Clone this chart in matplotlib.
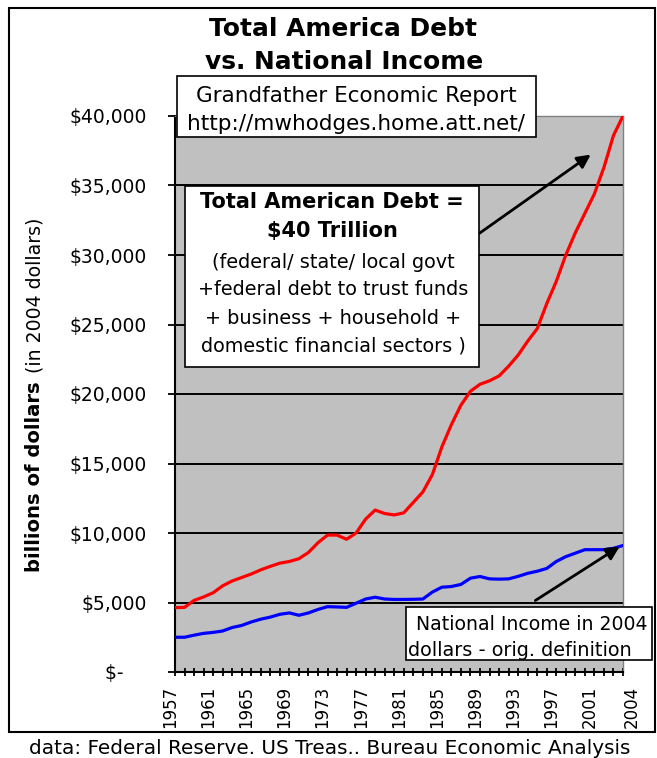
import matplotlib
matplotlib.use("Agg")
import matplotlib.pyplot as plt
from matplotlib.patches import Rectangle
import numpy as np

plt.rcParams['font.family'] = ['DejaVu Sans']

# Data (billions of 2004 dollars)
years = list(range(1957, 2005))
total_debt = [4630, 4650, 5150, 5400, 5700, 6200, 6550, 6800, 7050, 7350,
              7600, 7830, 7950, 8150, 8600, 9300, 9850, 9850, 9550, 10000,
              11000, 11650, 11400, 11300, 11450, 12200, 12950, 14200, 16200, 17800,
              19200, 20200, 20700, 20950, 21300, 22000, 22800, 23800, 24700, 26500,
              28100, 30000, 31600, 33000, 34400, 36300, 38600, 40000]
national_income = [2500, 2500, 2650, 2780, 2850, 2950, 3200, 3350, 3600, 3800,
                   3950, 4150, 4250, 4080, 4250, 4500, 4700, 4680, 4650, 4950,
                   5250, 5380, 5250, 5220, 5220, 5230, 5250, 5750, 6100, 6150,
                   6300, 6750, 6870, 6700, 6680, 6700, 6880, 7100, 7250, 7450,
                   7950, 8300, 8550, 8800, 8800, 8800, 8900, 9100]
y_ticks = [0, 5000, 10000, 15000, 20000, 25000, 30000, 35000, 40000]
y_labels = ['$-    ', '$5,000', '$10,000', '$15,000', '$20,000', '$25,000',
            '$30,000', '$35,000', '$40,000']
x_label_years = [1957, 1961, 1965, 1969, 1973, 1977, 1981, 1985, 1989, 1993,
                 1997, 2001, 2004]

W, H = 657, 758
fig = plt.figure(figsize=(W / 100, H / 100), dpi=100)


def fx(px):
    return px / W


def fy(py):
    return 1 - py / H


def box(x0, y0, x1, y1):
    # white box with black border, given in pixel corners
    fig.patches.append(Rectangle((fx(x0), fy(y1)), fx(x1) - fx(x0), fy(y0) - fy(y1),
                                 transform=fig.transFigure, facecolor='white',
                                 edgecolor='black', linewidth=1.2, zorder=5))


# outer frame
fig.patches.append(Rectangle((fx(9), fy(732)), fx(655) - fx(9), fy(8) - fy(732),
                             transform=fig.transFigure, fill=False,
                             edgecolor='black', linewidth=1.5))

ax = fig.add_axes([fx(175), fy(672), fx(623) - fx(175), fy(116) - fy(672)])
ax.set_facecolor('#c0c0c0')

ax.plot(years, total_debt, color='#ff0000', linewidth=2.3, zorder=3)
ax.plot(years, national_income, color='#0000ff', linewidth=2.3, zorder=3)

ax.set_xlim(1957, 2004)
ax.set_ylim(0, 40000)
ax.set_yticks(y_ticks)
ax.set_yticklabels(y_labels, fontsize=13.5)
ax.set_xticks(years)
ax.set_xticklabels([])
ax.tick_params(axis='x', direction='inout', length=6, width=1.3)
ax.tick_params(axis='y', direction='out', length=5, width=1.3, pad=15)
ax.grid(axis='y', color='black', linewidth=1.4)
ax.set_axisbelow(True)
for s in ['left', 'bottom']:
    ax.spines[s].set_linewidth(1.5)
for s in ['top', 'right']:
    ax.spines[s].set_color('#808080')
    ax.spines[s].set_linewidth(1.0)

# year labels (Excel puts every 4th category, last one shifted right)
px_per_year = (623 - 175) / 47
for yr in x_label_years:
    xpos = yr - 5 / px_per_year if yr != 2004 else yr + 9 / px_per_year
    ax.text(xpos, -0.025, str(yr), transform=ax.get_xaxis_transform(),
            rotation=90, ha='center', va='top', fontsize=12, clip_on=False)

# titles
fig.text(fx(343), fy(29), 'Total America Debt', ha='center', va='center',
         fontsize=17.9, fontweight='bold')
fig.text(fx(344), fy(62), 'vs. National Income', ha='center', va='center',
         fontsize=17.9, fontweight='bold')

# y label (bold + regular parts)
fig.text(fx(35), fy(477), 'billions of dollars', rotation=90, ha='center',
         va='center', fontsize=14.1, fontweight='bold')
fig.text(fx(35), fy(295), '(in 2004 dollars)', rotation=90, ha='center',
         va='center', fontsize=13.6)

# source box
box(177, 76, 536, 137)
fig.text(fx(356), fy(96), 'Grandfather Economic Report', ha='center', va='center',
         fontsize=15.5, zorder=6)
fig.text(fx(356), fy(124), 'http://mwhodges.home.att.net/', ha='center', va='center',
         fontsize=15.5, zorder=6)

# debt annotation box
box(185, 186, 479, 367)
fig.text(fx(332), fy(202), 'Total American Debt =', ha='center', va='center',
         fontsize=15, fontweight='bold', zorder=6)
fig.text(fx(332), fy(231), '$40 Trillion', ha='center', va='center',
         fontsize=15, fontweight='bold', zorder=6)
debt_lines = ['(federal/ state/ local govt', '+federal debt to trust funds',
              '+ business + household +', 'domestic financial sectors )']
for i, line in enumerate(debt_lines):
    fig.text(fx(333), fy(262 + 28 * i), line, ha='center', va='center',
             fontsize=13.9, zorder=6)

# national income box
box(406, 607, 652, 660)
fig.text(fx(416), fy(624), 'National Income in 2004', ha='left', va='center',
         fontsize=13.6, zorder=6)
fig.text(fx(408), fy(651), 'dollars - orig. definition', ha='left', va='center',
         fontsize=13.9, zorder=6)

# arrows
ax.annotate('', xy=(fx(593), fy(153)), xycoords='figure fraction',
            xytext=(fx(477), fy(235)), textcoords='figure fraction',
            arrowprops=dict(arrowstyle='-|>,head_length=0.8,head_width=0.4',
                            color='black', linewidth=2), zorder=6)
ax.annotate('', xy=(fx(622), fy(545)), xycoords='figure fraction',
            xytext=(fx(533), fy(602)), textcoords='figure fraction',
            arrowprops=dict(arrowstyle='-|>,head_length=0.8,head_width=0.4',
                            color='black', linewidth=2), zorder=6)

# footer
fig.text(fx(330), fy(749), 'data: Federal Reserve. US Treas.. Bureau Economic Analysis',
         ha='center', va='center', fontsize=14.4)

fig.savefig('out.png', dpi=100)
